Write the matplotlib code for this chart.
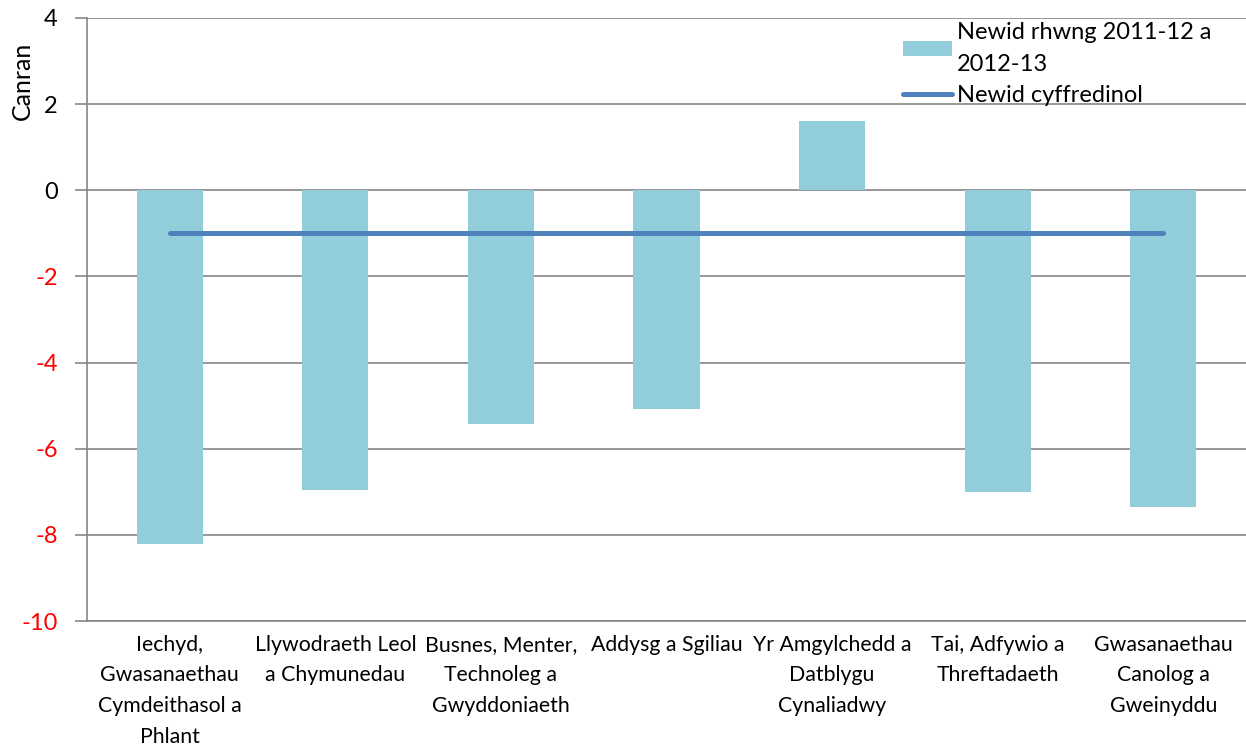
import numpy as np
import matplotlib
matplotlib.use("Agg")
import matplotlib.pyplot as plt

plt.rcParams["font.family"] = ["Lato", "DejaVu Sans"]

categories = [
    "Iechyd,\nGwasanaethau\nCymdeithasol a\nPhlant",
    "Llywodraeth Leol\na Chymunedau",
    "Busnes, Menter,\nTechnoleg a\nGwyddoniaeth",
    "Addysg a Sgiliau",
    "Yr Amgylchedd a\nDatblygu\nCynaliadwy",
    "Tai, Adfywio a\nThreftadaeth",
    "Gwasanaethau\nCanolog a\nGweinyddu",
]
change = [-8.22, -6.96, -5.43, -5.08, 1.62, -7.0, -7.35]
overall = [-1.0] * 7
yticks = [4, 2, 0, -2, -4, -6, -8, -10]

bar_color = "#92CDDC"
line_color = "#4F81BD"
grid_color = "#868686"

fig = plt.figure(figsize=(12.46, 7.48), dpi=100)
ax = fig.add_axes([87 / 1246, 1 - 621 / 748, 1 - 87 / 1246, (621 - 18) / 748])

x = np.arange(len(categories))
bars = ax.bar(x, change, width=0.4, color=bar_color, zorder=2)
line, = ax.plot(x, overall, color=line_color, linewidth=3.6, zorder=3,
                solid_capstyle="round")

ax.set_xlim(-0.5, len(categories) - 0.5)
ax.set_ylim(-10, 4)
ax.set_yticks(yticks)
ax.set_yticklabels([str(t) for t in yticks], fontsize=17)
for lbl, t in zip(ax.get_yticklabels(), yticks):
    lbl.set_color("red" if t < 0 else "black")
ax.yaxis.grid(True, color=grid_color, linewidth=1.2, zorder=0)
ax.set_axisbelow(True)
ax.tick_params(axis="y", length=9, width=1.2, color=grid_color, pad=12)
ax.set_xticks(x)
ax.set_xticklabels(categories, fontsize=15.3, linespacing=1.66)
ax.tick_params(axis="x", length=0, pad=10)

for s in ["top", "right"]:
    ax.spines[s].set_visible(False)
for s in ["left", "bottom"]:
    ax.spines[s].set_color(grid_color)
    ax.spines[s].set_linewidth(1.2)

fig.text(22 / 1246, 1 - 81 / 748, "Canran", rotation=90, fontsize=18,
         ha="center", va="center")

leg = ax.legend([bars, line], ["Newid rhwng 2011-12 a\n2012-13", "Newid cyffredinol"],
                loc="upper left", bbox_to_anchor=(885 / 1246, 1 - 4 / 748),
                bbox_transform=fig.transFigure, frameon=False, fontsize=17,
                handlelength=2.1, handleheight=0.6, handletextpad=0.2,
                labelspacing=0.45, borderpad=0.25)
for t in leg.get_texts():
    t.set_linespacing(1.65)

fig.savefig("out.png", dpi=100)
